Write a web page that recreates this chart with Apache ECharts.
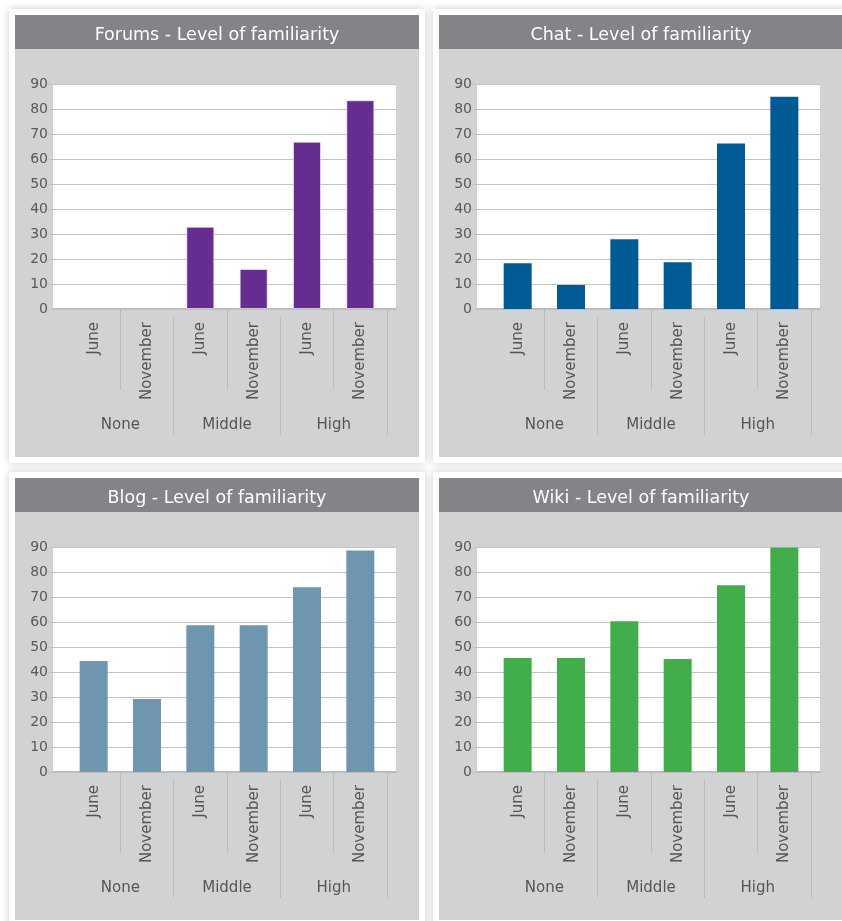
<!DOCTYPE html>
<html>
<head>
<meta charset="utf-8">
<title>Level of familiarity</title>
<script src="https://cdn.jsdelivr.net/npm/echarts@6/dist/echarts.min.js"></script>
<style>
  html, body { margin: 0; padding: 0; background: #ffffff; }
  #chart { width: 842px; height: 921px; }
</style>
</head>
<body>
<div id="chart"></div>
<script>
// Familiarity levels and survey months
const groups = ['None', 'Middle', 'High'];
const months = ['June', 'November'];

// Share of respondents (%) per level / month, in group order
const forums = [0, 0, 32.9, 16.0, 66.9, 83.5];
const chat   = [18.3, 9.6, 27.9, 18.7, 66.2, 84.9];
const blog   = [44.4, 29.2, 58.7, 58.7, 73.9, 88.6];
const wiki   = [45.6, 45.6, 60.3, 45.2, 74.7, 89.8];

// Value axis
const yMin = 0;
const yMax = 90;
const yStep = 10;

const panels = [
  { title: 'Forums - Level of familiarity', values: forums, color: '#652d90', outline: true },
  { title: 'Chat - Level of familiarity',   values: chat,   color: '#005a94' },
  { title: 'Blog - Level of familiarity',   values: blog,   color: '#6f96af' },
  { title: 'Wiki - Level of familiarity',   values: wiki,   color: '#41ae4b' }
];

// one category per bar: "group|month"
const barCats = [];
groups.forEach(g => months.forEach(m => barCats.push(g + '|' + m)));

const FONT = 'DejaVu Sans';
const GRID_LINE = '#c4c4c4';
const SEP_LINE = '#bdbdbd';

const option = {
  animation: false,
  backgroundColor: '#ffffff',
  title: [], grid: [], xAxis: [], yAxis: [], series: [], graphic: []
};

panels.forEach((p, i) => {
  const dx = (i % 2) * 424;
  const dy = Math.floor(i / 2) * 463;

  // card, panel and header
  option.graphic.push(
    { type: 'rect', silent: true, z: -10,
      shape: { x: 9 + dx, y: 9 + dy, width: 416, height: 454 },
      style: { fill: '#ffffff', shadowBlur: 8, shadowColor: 'rgba(0,0,0,0.2)' } },
    { type: 'rect', silent: true, z: -9,
      shape: { x: 15 + dx, y: 15 + dy, width: 404, height: 442 },
      style: { fill: '#d1d2d4' } },
    { type: 'rect', silent: true, z: -8,
      shape: { x: 15 + dx, y: 15 + dy, width: 404, height: 34 },
      style: { fill: '#838488' } }
  );

  option.title.push({
    text: p.title,
    left: 212 + dx, top: 21 + dy, textAlign: 'center',
    textStyle: { color: '#ffffff', fontFamily: FONT, fontSize: 17.5, fontWeight: 'normal' }
  });

  // white plotting area with the value scale and gridlines
  option.grid.push({
    left: 53 + dx, top: 84 + dy, width: 343, height: 225,
    show: true, backgroundColor: '#ffffff', borderWidth: 0
  });
  // bar area (inset inside the white area)
  option.grid.push({
    left: 67 + dx, top: 84 + dy, width: 320, height: 225
  });

  const gBg = 2 * i, gBar = 2 * i + 1;

  option.xAxis.push({
    gridIndex: gBg, type: 'category', data: [''], position: 'bottom',
    axisLine: { show: true, lineStyle: { color: '#bdbdbd', width: 2 } },
    axisTick: { show: false }, axisLabel: { show: false }, splitLine: { show: false }
  });
  option.yAxis.push({
    gridIndex: gBg, type: 'value', min: yMin, max: yMax, interval: yStep,
    axisLine: { show: false },
    axisTick: { show: true, length: 4, lineStyle: { color: GRID_LINE } },
    axisLabel: { color: '#595959', fontFamily: FONT, fontSize: 14, margin: 5 },
    splitLine: { show: true, lineStyle: { color: GRID_LINE, width: 1 } }
  });

  // month axis: labels and separators inside each group
  const xMonth = option.xAxis.length;
  option.xAxis.push({
    gridIndex: gBar, type: 'category', data: barCats, position: 'bottom', offset: 8,
    axisLine: { show: false },
    axisTick: { show: true, length: 81, interval: (idx) => idx % 2 === 1,
                lineStyle: { color: SEP_LINE } },
    axisLabel: { interval: 0, rotate: 90, margin: 5, color: '#555555',
                 fontFamily: FONT, fontSize: 15,
                 formatter: v => v.split('|')[1] },
    splitLine: { show: false }
  });
  // group axis: level names and separators between groups
  option.xAxis.push({
    gridIndex: gBar, type: 'category', data: groups, position: 'bottom', offset: 8,
    axisLine: { show: false },
    axisTick: { show: true, length: 118, interval: (idx) => idx > 0,
                lineStyle: { color: SEP_LINE } },
    axisLabel: { interval: 0, margin: 101, color: '#555555',
                 fontFamily: FONT, fontSize: 15 },
    splitLine: { show: false }
  });
  const yBar = option.yAxis.length;
  option.yAxis.push({
    gridIndex: gBar, type: 'value', min: yMin, max: yMax, interval: yStep, show: false
  });

  option.series.push({
    type: 'bar', xAxisIndex: xMonth, yAxisIndex: yBar,
    barWidth: 28,
    // zero-height bars are drawn without an outline
    data: p.values.map(v => (p.outline && v > 0)
      ? { value: v, itemStyle: { borderColor: 'rgba(255,255,255,0.55)', borderWidth: 1 } }
      : v),
    itemStyle: { color: p.color }
  });
});

const chart = echarts.init(document.getElementById('chart'), null, { renderer: 'canvas' });
chart.setOption(option);
</script>
</body>
</html>
